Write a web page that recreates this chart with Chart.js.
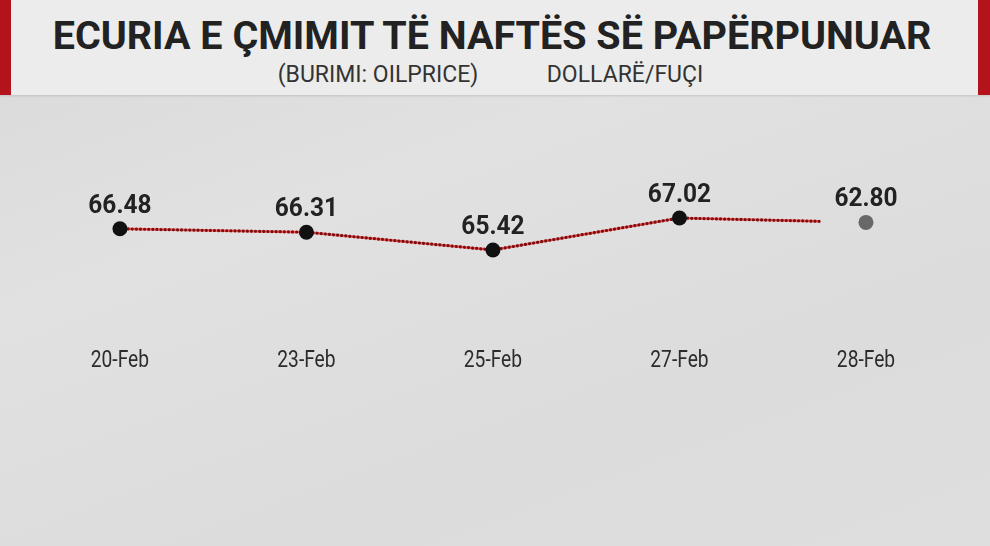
<!DOCTYPE html>
<html>
<head>
<meta charset="utf-8">
<script src="https://cdn.jsdelivr.net/npm/chart.js@4"></script>
<style>
  html, body { margin: 0; padding: 0; }
  body {
    width: 990px; height: 546px; overflow: hidden; position: relative;
    background: linear-gradient(160deg, #d9d9d9 0%, #e1e1e1 35%, #dcdcdc 70%, #dedede 100%);
    font-family: Roboto, "Noto Sans", sans-serif;
  }
  #header {
    position: absolute; left: 0; top: 0; width: 990px; height: 95px;
    background: #ececec; box-sizing: border-box;
    border-left: 11px solid #b3131b; border-right: 12px solid #b3131b;
    box-shadow: 0 1px 2px rgba(0,0,0,0.12);
  }
  .t { position: absolute; white-space: nowrap; transform: translateX(-50%); }
  #title { left: 492px; top: 16px; font: 700 39.5px/40px Roboto, sans-serif; color: #222; }
  #sub1 { left: 378px; top: 63px; font: 400 23px/23px Roboto, sans-serif; color: #333; }
  #sub2 { left: 625px; top: 63px; font: 400 23px/23px Roboto, sans-serif; color: #333; }
  #wrap { position: absolute; left: 0; top: 96px; width: 990px; height: 450px; }
</style>
</head>
<body>
<div id="header"></div>
<div class="t" id="title">ECURIA E ÇMIMIT TË NAFTËS SË PAPËRPUNUAR</div>
<div class="t" id="sub1">(BURIMI: OILPRICE)</div>
<div class="t" id="sub2">DOLLARË/FUÇI</div>
<div id="wrap"><canvas id="c"></canvas></div>
<script>
const categories = ['20-Feb', '23-Feb', '25-Feb', '27-Feb', '28-Feb'];
const priceLabels = ['66.48', '66.31', '65.42', '67.02', '62.80'];
// heights at which the markers are drawn in the graphic (last one is not to scale)
const markerLevels = [66.48, 66.31, 65.42, 67.02, 66.80];
const markerColors = ['#111111', '#111111', '#111111', '#111111', '#686868'];
const trailFraction = 0.75; // how far the dotted line runs toward the last marker

const markerPts = markerLevels.map((y, i) => ({ x: i, y }));
const n = markerLevels.length;
const linePts = markerPts.slice(0, n - 1).concat([{
  x: (n - 2) + trailFraction,
  y: markerLevels[n - 2] + trailFraction * (markerLevels[n - 1] - markerLevels[n - 2])
}]);

const labelPlugin = {
  id: 'valueLabels',
  afterDatasetsDraw(chart) {
    const ctx = chart.ctx;
    const meta = chart.getDatasetMeta(0);
    ctx.save();
    ctx.fillStyle = '#222';
    ctx.textAlign = 'center';
    ctx.textBaseline = 'alphabetic';
    ctx.font = '700 26px Roboto, sans-serif';
    meta.data.forEach((pt, i) => {
      ctx.save();
      ctx.translate(pt.x, pt.y - 16);
      ctx.scale(0.94, 1);
      ctx.fillText(priceLabels[i], 0, 0);
      ctx.restore();
    });
    // category labels, placed by the x scale, drawn condensed
    const xs = chart.scales.x;
    ctx.font = '400 24px Roboto, sans-serif';
    ctx.fillStyle = '#2c2c2c';
    categories.forEach((c, i) => {
      const px = xs.getPixelForValue(i);
      ctx.save();
      ctx.translate(px, chart.chartArea.bottom + 21);
      ctx.scale(0.8, 1);
      ctx.fillText(c, 0, 0);
      ctx.restore();
    });
    ctx.restore();
  }
};

new Chart(document.getElementById('c'), {
  type: 'line',
  data: {
    datasets: [
      {
        label: 'markers', data: markerPts, showLine: false, order: 0,
        pointRadius: 7.5, pointHoverRadius: 7.5, pointBorderWidth: 0,
        pointBackgroundColor: markerColors, pointBorderColor: markerColors
      },
      {
        label: 'dots', data: linePts, order: 1, pointRadius: 0,
        borderColor: '#7e0d10', borderWidth: 3.2, borderDash: [0.01, 4.1],
        borderCapStyle: 'round', tension: 0, fill: false
      },
      {
        label: 'base', data: linePts, order: 2, pointRadius: 0,
        borderColor: 'rgba(240,60,60,0.8)', borderWidth: 2.4,
        tension: 0, fill: false
      }
    ]
  },
  options: {
    responsive: true, maintainAspectRatio: false, animation: false,
    events: [],
    layout: { autoPadding: false, padding: { left: 0, right: 0, top: 0, bottom: 200 } },
    plugins: { legend: { display: false }, tooltip: { enabled: false }, title: { display: false } },
    scales: {
      x: { type: 'linear', display: false, min: -0.643, max: 4.665 },
      y: { display: false, min: 60.62, max: 73.12 }
    }
  },
  plugins: [labelPlugin]
});
</script>
</body>
</html>
